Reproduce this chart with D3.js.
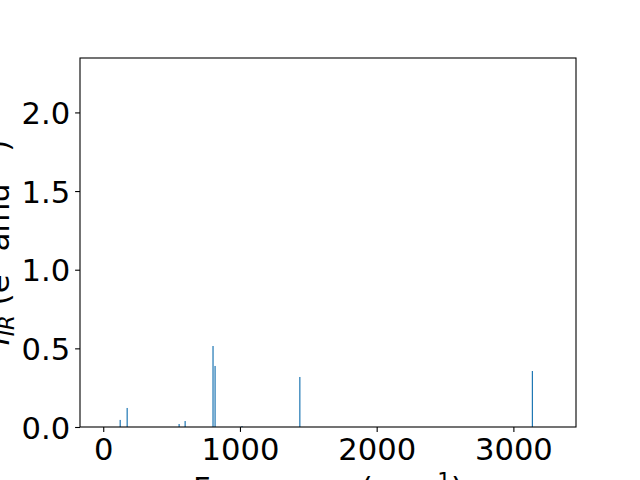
<!DOCTYPE html>
<html><head><meta charset="utf-8">
<script src="https://cdn.jsdelivr.net/npm/d3@7"></script>
<style>body{margin:0;background:#fff;} svg{display:block;} text{font-family:"DejaVu Sans",sans-serif;}</style>
</head><body>
<svg id="c" width="640" height="480"></svg>
<script>
const frequencies = [124, 175, 555, 599, 803, 818, 1015, 1438, 3139];
const intensities = [0.045, 0.121, 0.019, 0.038, 0.515, 0.388, 0.006, 0.318, 0.356];
const xTicks = [0, 1000, 2000, 3000];
const yTicks = [0, 0.5, 1.0, 1.5, 2.0];
const xDomain = [-170, 3458];
const yDomain = [0, 2.346];

const svg = d3.select("#c");
const m = {l: 80, r: 576, t: 58, b: 427};
const x = d3.scaleLinear().domain(xDomain).range([m.l, m.r]);
const y = d3.scaleLinear().domain(yDomain).range([m.b, m.t]);

const data = frequencies.map((f, i) => ({f, v: intensities[i]}));
svg.append("g").selectAll("rect").data(data).enter().append("rect")
  .attr("x", d => x(d.f) - 0.6)
  .attr("width", 1.2)
  .attr("y", d => y(d.v))
  .attr("height", d => y(0) - y(d.v))
  .attr("fill", "#1f77b4");

const fs = 30.6, fsSmall = 21.4;
const xa = svg.append("g").attr("transform", `translate(0,${m.b})`)
  .call(d3.axisBottom(x).tickValues(xTicks).tickFormat(d3.format("d")).tickSize(4.9).tickPadding(4.9));
const ya = svg.append("g").attr("transform", `translate(${m.l},0)`)
  .call(d3.axisLeft(y).tickValues(yTicks).tickFormat(d3.format(".1f")).tickSize(4.9).tickPadding(4.9));
[xa, ya].forEach(a => {
  a.select(".domain").remove();
  a.selectAll(".tick line").attr("stroke", "#000").attr("stroke-width", 1.1);
  a.selectAll(".tick text").attr("fill", "#000").style("font-size", fs + "px").style("font-family", "DejaVu Sans");
});
xa.selectAll(".tick text").attr("dy", "0.76em");
ya.selectAll(".tick text").attr("dy", "0.36em");

svg.append("rect").attr("x", m.l).attr("y", m.t).attr("width", m.r - m.l).attr("height", m.b - m.t)
  .attr("fill", "none").attr("stroke", "#000").attr("stroke-width", 1.1);

// x label
const xl = svg.append("text").attr("x", (m.l + m.r) / 2).attr("y", 499).attr("text-anchor", "middle")
  .style("font-size", fs + "px").attr("fill", "#000");
xl.append("tspan").text("Frequency (cm");
xl.append("tspan").attr("dy", -11.5).style("font-size", fsSmall + "px").text("−1");
xl.append("tspan").attr("dy", 11.5).text(")");

// y label
const yl = svg.append("text").attr("transform", `translate(9,${(m.t + m.b) / 2}) rotate(-90)`)
  .attr("text-anchor", "middle").style("font-size", fs + "px").attr("fill", "#000");
yl.append("tspan").style("font-style", "italic").text("I");
yl.append("tspan").attr("dy", 5).style("font-size", fsSmall + "px").style("font-style", "italic").text("IR");
yl.append("tspan").attr("dy", -5).text(" (e");
yl.append("tspan").attr("dy", -11.5).style("font-size", fsSmall + "px").text("2");
yl.append("tspan").attr("dy", 11.5).text(" amu");
yl.append("tspan").attr("dy", -11.5).style("font-size", fsSmall + "px").text("−1");
yl.append("tspan").attr("dy", 11.5).text(")");
</script>
</body></html>
